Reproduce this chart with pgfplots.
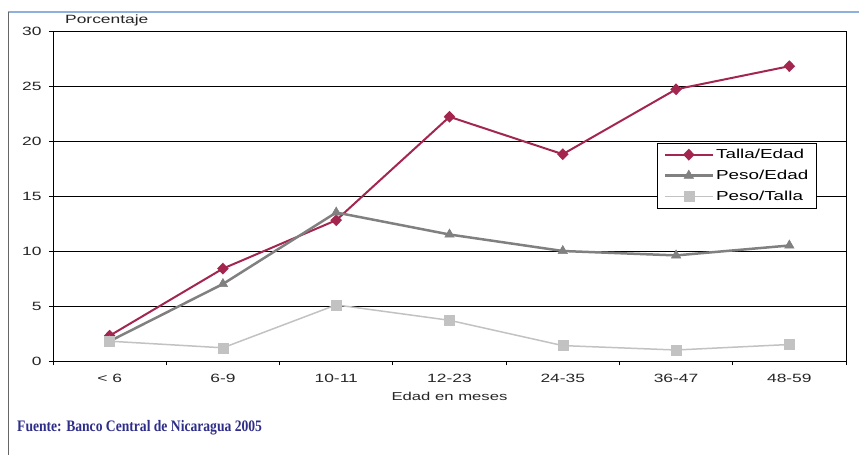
\documentclass[border=0pt]{standalone}
\usepackage{pgfplots}
\pgfplotsset{compat=1.18}
\usepackage{fontspec}
\setmainfont{Liberation Sans}[FakeStretch=1.45]
\newfontfamily\fuentefont{Liberation Serif}[FakeStretch=0.85]
\definecolor{talla}{HTML}{A3264F}
\definecolor{pesoedad}{HTML}{808080}
\definecolor{pesotalla}{HTML}{C2C2C2}
\definecolor{fuente}{HTML}{2E2E8A}
\definecolor{frameblue}{HTML}{8EB0DC}
\begin{document}
\begin{tikzpicture}
\path[use as bounding box] (-53pt,-94pt) rectangle (806pt,361pt);
\draw[frameblue, line width=1.2pt] (-45pt,349pt) -- (806pt,349pt);
\draw[black!60, line width=0.8pt] (-45pt,349pt) -- (-45pt,-94pt);
\node[anchor=base west, text=fuente, inner sep=0pt] at (-36pt,-70pt)
  {\fuentefont\fontsize{16}{18}\selectfont\bfseries Fuente: Banco Central de Nicaragua 2005};
\begin{axis}[
  at={(0,0)}, anchor=south west,
  scale only axis, width=793pt, height=330pt,
  xmin=-0.5, xmax=6.5, ymin=0, ymax=30,
  xtick={-0.5,0.5,...,6.5},
  x tick label as interval,
  xticklabels={{< 6},{6-9},{10-11},{12-23},{24-35},{36-47},{48-59}},
  ytick={0,5,...,30},
  xtick pos=bottom, ytick pos=left,
  tick align=outside,
  major tick length=4pt,
  tick style={black, line width=0.8pt},
  ymajorgrids,
  grid style={black, line width=0.7pt},
  axis line style={black, line width=0.9pt},
  /pgf/number format/assume math mode=true,
  ticklabel style={font=\fontsize{12}{13}\selectfont, text=black!85},
  xticklabel style={yshift=-6pt},
  yticklabel style={xshift=-4pt},
  xlabel={Edad en meses},
  xlabel style={font=\fontsize{11.5}{13}\selectfont, text=black!85, yshift=-2pt},
  legend style={at={(0.963,0.661)}, anchor=north east, draw=black, line width=0.7pt,
    font=\fontsize{13}{15}\selectfont, row sep=6pt, inner xsep=6pt, inner ysep=4pt,
    nodes={inner sep=2pt}},
  legend cell align=left,
  legend image code/.code={\draw[mark repeat=2,mark phase=2,#1]
    plot coordinates {(0pt,0pt) (24pt,0pt) (48pt,0pt)};},
  clip=false,
]
\addplot[talla, line width=2pt, mark=diamond*, mark size=4.5pt, mark options={solid, fill=talla, xscale=1.3}]
  coordinates {(0,2.3) (1,8.4) (2,12.8) (3,22.2) (4,18.8) (5,24.7) (6,26.8)};
\addlegendentry{Talla/Edad}
\addplot[pesoedad, line width=2.5pt, mark=triangle*, mark size=5.5pt, mark options={solid, fill=pesoedad, line width=0.5pt}]
  coordinates {(0,1.8) (1,7.0) (2,13.5) (3,11.5) (4,10.0) (5,9.6) (6,10.5)};
\addlegendentry{Peso/Edad}
\addplot[pesotalla, line width=1.5pt, mark=square*, mark size=5pt, mark options={solid, fill=pesotalla, line width=0.5pt}]
  coordinates {(0,1.8) (1,1.2) (2,5.1) (3,3.7) (4,1.4) (5,1.0) (6,1.5)};
\addlegendentry{Peso/Talla}
\node[anchor=base west, inner sep=0pt, font=\fontsize{12}{14}\selectfont, text=black!85]
  at ([xshift=12pt, yshift=7pt]rel axis cs:0,1) {Porcentaje};
\end{axis}
\end{tikzpicture}
\end{document}
